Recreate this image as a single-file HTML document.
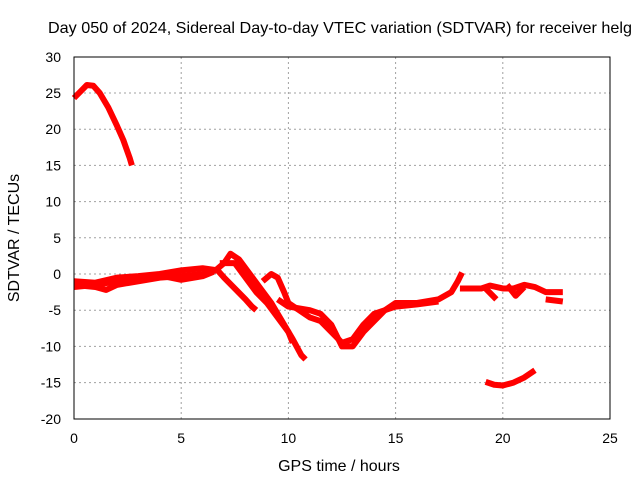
<!DOCTYPE html>
<html><head><meta charset="utf-8"><style>
body{margin:0;background:#fff}
svg text{font-family:"Liberation Sans",sans-serif;font-size:14px;fill:#000}
</style></head><body>
<svg id="c" width="640" height="480">
<text x="48" y="33" style="font-size:16px" textLength="584" lengthAdjust="spacingAndGlyphs">Day 050 of 2024, Sidereal Day-to-day VTEC variation (SDTVAR) for receiver helg</text>
<text x="339" y="471" text-anchor="middle" style="font-size:16px">GPS time / hours</text>
<text transform="translate(19,238) rotate(-90)" text-anchor="middle" style="font-size:16px">SDTVAR / TECUs</text>
<g id="grid"></g><g id="ticks"></g><g id="series"></g>
<rect x="74" y="57" width="536" height="362" fill="none" stroke="#000"/>
</svg>
<script>
const xTicks=[0,5,10,15,20,25];
const yTicks=[30,25,20,15,10,5,0,-5,-10,-15,-20];
const arcTop=[[0,24.3],[0.3,25.2],[0.6,26.1],[0.9,26],[1.2,25],[1.6,23],[2,20.5],[2.3,18.5],[2.6,16],[2.7,15]];
const traceA=[[0,-1.5],[1,-1.8],[1.5,-2.2],[2,-1.5],[3,-1],[4,-0.5],[5,-0.3],[6,0],[6.6,0.5],[7,1.5],[7.3,2.8],[7.7,2],[8.2,0],[8.7,-2],[9.2,-4],[9.7,-6.5],[10.2,-9],[10.6,-11.2],[10.8,-11.8]];
const traceB=[[0,-1],[1,-1.2],[2,-0.5],[3,-0.3],[4,0],[5,0.5],[6,0.8],[6.7,0.5],[7,-0.5],[7.5,-2],[8,-3.5],[8.3,-4.5],[8.5,-5]];
const traceB2=[[0,-1.8],[1,-1.5],[2,-1],[3,-0.8],[4,-0.2],[5,-0.8],[6,-0.3],[6.5,0.3]];
const traceC=[[6.8,1.5],[7.5,1.5],[8,-0.5],[8.5,-2.5],[9,-4],[9.5,-6],[10,-8],[10.2,-9.5]];
const traceD=[[8.8,-1],[9.2,0],[9.5,-0.5],[9.8,-2.5],[10,-4],[10.5,-5],[11,-6],[11.5,-6.5],[12,-8],[12.5,-9.5],[13,-9],[13.5,-7],[14,-5.5],[15,-4.5],[16,-4.2],[17,-3.8]];
const traceE=[[9.5,-3.5],[10,-4.5],[11,-5],[11.5,-5.5],[12,-7],[12.5,-10],[13,-10],[13.5,-8],[14,-6.5],[14.5,-5],[15,-4],[16,-4],[17,-3.5],[17.6,-2.5],[17.9,-1],[18.1,0.2]];
const traceF=[[18,-2],[19,-2],[19.4,-1.6],[20,-2],[20.5,-2],[21,-1.5],[21.5,-1.8],[22,-2.5],[22.8,-2.5]];
const traceG=[[19.2,-2],[19.7,-3.5]];
const traceH=[[20.2,-1.5],[20.6,-3],[21,-1.8]];
const traceI=[[22,-3.5],[22.8,-3.8]];
const arcBottom=[[19.2,-14.9],[19.6,-15.3],[20,-15.4],[20.5,-15],[21,-14.3],[21.5,-13.3]];
const seriesList=[arcTop,traceA,traceB,traceB2,traceC,traceD,traceE,traceF,traceG,traceH,traceI,arcBottom];
const X=h=>74+h*536/25, Y=v=>274-v*7.24;
const NS="http://www.w3.org/2000/svg";
const grid=document.getElementById('grid'),ticks=document.getElementById('ticks'),ser=document.getElementById('series');
xTicks.forEach(t=>{
 if(t>0&&t<25){const l=document.createElementNS(NS,'line');
 l.setAttribute('x1',X(t));l.setAttribute('x2',X(t));l.setAttribute('y1',57);l.setAttribute('y2',419);
 l.setAttribute('stroke','#a0a0a0');l.setAttribute('stroke-dasharray','2,3');
 
 grid.appendChild(l);}
 const s=document.createElementNS(NS,'text');s.setAttribute('x',X(t));s.setAttribute('y',443);s.setAttribute('text-anchor','middle');s.textContent=t;
 
 ticks.appendChild(s);
});
yTicks.forEach(t=>{
 if(t<30&&t>-20){const l=document.createElementNS(NS,'line');
 l.setAttribute('x1',74);l.setAttribute('x2',610);l.setAttribute('y1',Y(t));l.setAttribute('y2',Y(t));
 l.setAttribute('stroke','#a0a0a0');l.setAttribute('stroke-dasharray','2,3');
 
 grid.appendChild(l);}
 const s=document.createElementNS(NS,'text');s.setAttribute('x',61);s.setAttribute('y',Y(t)+5);s.setAttribute('text-anchor','end');s.textContent=t;
 
 ticks.appendChild(s);
});
seriesList.forEach(d=>{
 const p=document.createElementNS(NS,'polyline');
 p.setAttribute('points',d.map(q=>X(q[0])+','+Y(q[1])).join(' '));
 p.setAttribute('fill','none');p.setAttribute('stroke','#f00');p.setAttribute('stroke-width','6');p.setAttribute('stroke-linejoin','round');
 
 ser.appendChild(p);
});
</script>
</body></html>
